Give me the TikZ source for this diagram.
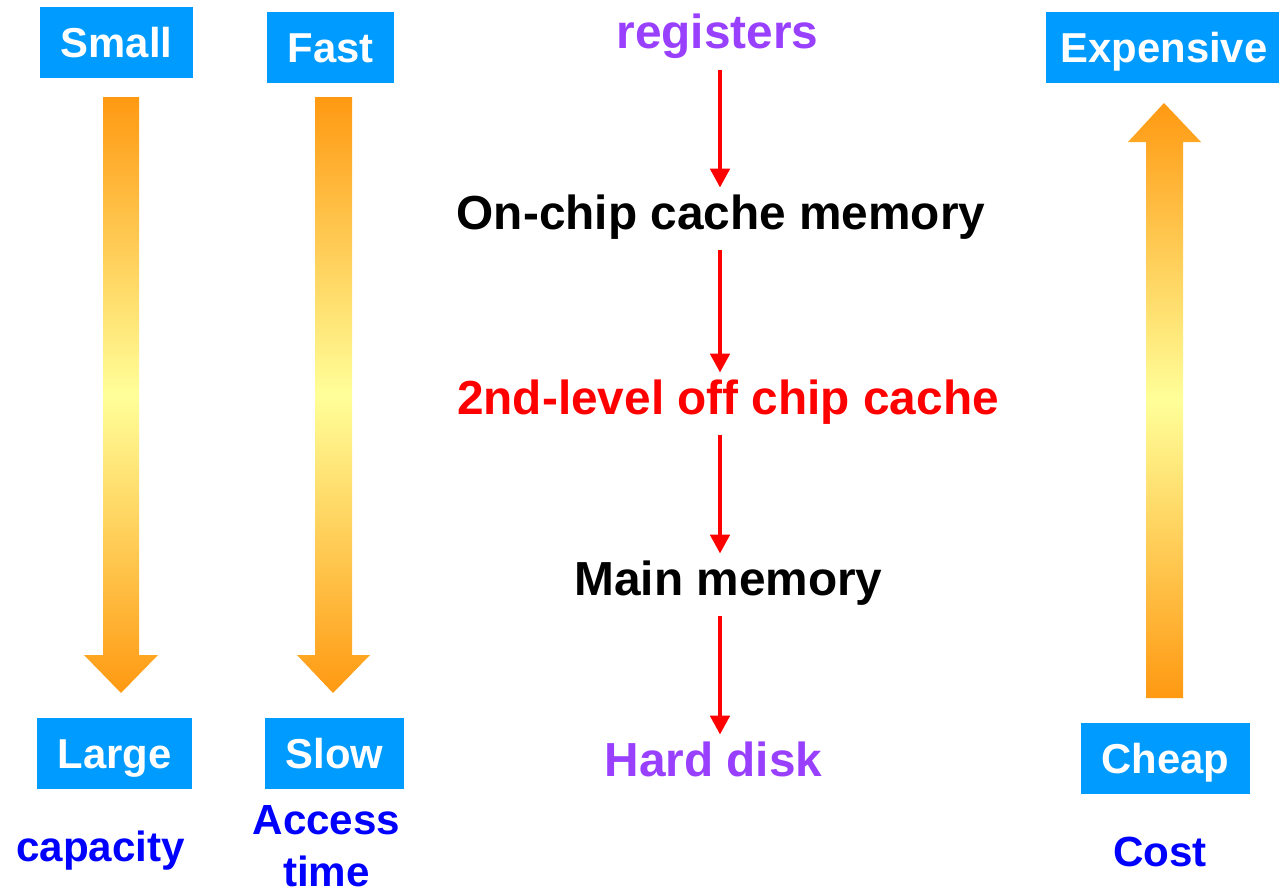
\documentclass[tikz,border=0pt]{standalone}
\usepackage{fontspec}
\setmainfont{Liberation Sans}
\usepackage{xcolor}
\usetikzlibrary{arrows.meta}
\definecolor{boxblue}{RGB}{0,155,255}
\definecolor{lblue}{RGB}{0,0,255}
\definecolor{regpurple}{RGB}{153,64,255}
\definecolor{arrorange}{RGB}{255,153,18}
\definecolor{arryellow}{RGB}{255,255,153}
\tikzset{levelarrow/.style={draw=red,line width=2.8pt,shorten <=6.2pt,shorten >=4pt,
		-{Triangle[width=10.8pt,length=10.8pt]}},bigarrow/.style={top color=arrorange,
		bottom color=arrorange,middle color=arryellow,draw=none}}
\tikzstyle{tag}=[rectangle,fill=boxblue,text=white,font=\fontsize{23.8}{28}\selectfont\bfseries,inner sep=0pt,minimum height=1.42cm,text height=0.6cm,text depth=0pt]
\tikzstyle{level}=[font=\fontsize{27.2}{32}\selectfont\bfseries,inner sep=0pt,text height=0.68cm,text depth=0.2cm,anchor=base]
\tikzstyle{measure}=[text=lblue,font=\fontsize{24}{29.5}\selectfont\bfseries,inner sep=0pt,anchor=base,align=center]

\begin{document}
\begin{tikzpicture}[x=0.02cm,y=-0.02cm]
	\useasboundingbox (0,0) rectangle (1279,889);
	\shade[bigarrow] (103,97) -- (139,97) -- (139,655) -- (158,655) -- (121,693) -- (84,655) -- (103,655) -- cycle;
	\shade[bigarrow] (315,97) -- (352,97) -- (352,655) -- (370,655) -- (333,693) -- (297,655) -- (315,655) -- cycle;
	\shade[bigarrow] (1146,698) -- (1183,698) -- (1183,142) -- (1201,142) -- (1164,103) -- (1128,142) -- (1146,142) -- cycle;
	\node at (116.5,42.5) [tag,minimum width=3.06cm] (small) {Small};
	\node at (330.5,47.5) [tag,minimum width=2.54cm] (fast) {Fast};
	\node at (1164,47.5) [tag,minimum width=4.72cm] (expensive) {Expensive};
	\node at (114.5,753.5) [tag,minimum width=3.10cm] (large) {Large};
	\node at (334.5,753.5) [tag,minimum width=2.78cm] (slow) {Slow};
	\node at (1165.5,758.5) [tag,minimum width=3.38cm] (cheap) {Cheap};
	\node at (100.5,861) [measure] (capacity) {capacity};
	\node at (326.5,886) [measure] (access) {Access\\time};
	\node at (1160,866) [measure] (cost) {Cost};
	\node at (717.5,49) [level,text=regpurple] (reg) {registers};
	\node at (721,229) [level] (onchip) {On-chip cache memory};
	\node at (728,414) [level,text=red] (offchip) {2nd-level off chip cache};
	\node at (728.5,595) [level] (mainmem) {Main memory};
	\node at (713.5,776) [level,text=regpurple] (disk) {Hard disk};
	\coordinate (ax) at (720,0);
	\draw[levelarrow] (reg.south -| ax) -- (onchip.north -| ax);
	\draw[levelarrow] (onchip.south -| ax) -- (offchip.north -| ax);
	\draw[levelarrow] (offchip.south -| ax) -- (mainmem.north -| ax);
	\draw[levelarrow] (mainmem.south -| ax) -- (disk.north -| ax);
\end{tikzpicture}
\end{document}
